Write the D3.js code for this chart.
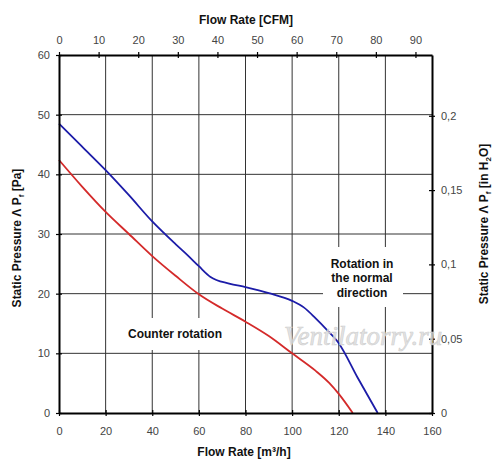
<!DOCTYPE html>
<html>
<head>
<meta charset="utf-8">
<script src="https://cdn.jsdelivr.net/npm/d3@7"></script>
<style>
  body { margin: 0; background: #fff; }
  text { font-family: "Liberation Sans", Arial, sans-serif; }
</style>
</head>
<body>
<svg id="chart" width="500" height="473"></svg>
<script>

// axis ticks
var flowTicks = [0, 20, 40, 60, 80, 100, 120, 140, 160];
var cfmTicks = [0, 10, 20, 30, 40, 50, 60, 70, 80, 90];
var paTicks = [0, 10, 20, 30, 40, 50, 60];
var inchTicks = [0, 0.05, 0.1, 0.15, 0.2];

// unit conversions for the secondary axes
var CFM_PER_M3H = 0.5886;
var INH2O_PER_PA = 0.004015;

// rotation in the normal direction (blue)
var normalFlow =     [0, 10, 20, 30, 40, 50, 55, 60, 65, 73, 80, 90, 100, 105, 110, 115, 120, 128, 136.7];
var normalPressure = [48.5, 44.6, 40.7, 36.5, 32.1, 28.3, 26.5, 24.6, 22.8, 21.7, 21.1, 20.1, 18.8, 17.7, 15.9, 13.9, 11.7, 6.0, 0];

// counter rotation (red)
var counterFlow =     [0, 10, 20, 30, 40, 50, 60, 70, 80, 90, 100, 110, 116, 120, 126];
var counterPressure = [42.4, 37.9, 33.7, 30.0, 26.3, 23.0, 19.9, 17.5, 15.3, 12.9, 10.0, 7.1, 5.0, 3.2, 0];

var svg = d3.select('#chart');
var plot = { left: 59, right: 432, top: 55, bottom: 413 };

var x = d3.scaleLinear().domain([0, 160]).range([plot.left, plot.right]);
var xCfm = d3.scaleLinear().domain([0, 160 * CFM_PER_M3H]).range([plot.left, plot.right]);
var y = d3.scaleLinear().domain([0, 60]).range([plot.bottom, plot.top]);
var yIn = d3.scaleLinear().domain([0, 60 * INH2O_PER_PA]).range([plot.bottom, plot.top]);

//grid
var grid = svg.append('g').attr('stroke', '#333').attr('stroke-width', 1);
grid.selectAll('.vgrid')
    .data(flowTicks.slice(1, -1))
  .enter().append('line')
    .attr('x1', function (d) { return x(d); })
    .attr('x2', function (d) { return x(d); })
    .attr('y1', plot.top).attr('y2', plot.bottom);
grid.selectAll('.hgrid')
    .data(paTicks.slice(1, -1))
  .enter().append('line')
    .attr('x1', plot.left).attr('x2', plot.right)
    .attr('y1', function (d) { return y(d); })
    .attr('y2', function (d) { return y(d); });

//label boxes (hide grid behind the annotations)
svg.append('rect').attr('x', 323).attr('y', 247).attr('width', 80).attr('height', 60).attr('fill', '#fff');
svg.append('rect').attr('x', 125).attr('y', 318).attr('width', 100).attr('height', 32).attr('fill', '#fff');

var normalLabel = svg.append('text')
    .attr('text-anchor', 'middle')
    .attr('font-size', 12).attr('font-weight', 'bold').attr('fill', '#111');
['Rotation in', 'the normal', 'direction'].forEach(function (t, i) {
    normalLabel.append('tspan').attr('x', 362).attr('y', 268 + i * 14.4).text(t);
});
svg.append('text')
    .attr('x', 175).attr('y', 338)
    .attr('text-anchor', 'middle')
    .attr('font-size', 12).attr('font-weight', 'bold').attr('fill', '#111')
    .text('Counter rotation');

//curves
var line = d3.line()
    .x(function (d) { return x(d[0]); })
    .y(function (d) { return y(d[1]); })
    .curve(d3.curveMonotoneX);

svg.append('path')
    .datum(d3.zip(counterFlow, counterPressure))
    .attr('d', line)
    .attr('fill', 'none').attr('stroke', '#d42a2a').attr('stroke-width', 1.8);
svg.append('path')
    .datum(d3.zip(normalFlow, normalPressure))
    .attr('d', line)
    .attr('fill', 'none').attr('stroke', '#1c1ca8').attr('stroke-width', 1.8);

//axes
function styleAxis(g, vertical) {
    g.select('.domain').attr('stroke', '#000').attr('stroke-width', 2);
    g.selectAll('.tick line').attr('stroke', '#000').attr('stroke-width', 1.2);
    if (vertical) {
        g.selectAll('.tick line').attr('x1', -3).attr('x2', 3);
    } else {
        g.selectAll('.tick line').attr('y1', -3).attr('y2', 3);
    }
    g.selectAll('.tick text')
        .style('fill', '#444')
        .style('font-family', '"Liberation Sans", Arial, sans-serif')
        .attr('font-size', 11);
}

svg.append('g')
    .attr('transform', 'translate(0,' + plot.bottom + ')')
    .call(d3.axisBottom(x).tickValues(flowTicks).tickSizeOuter(0).tickSizeInner(3).tickPadding(11))
    .call(styleAxis, false);

svg.append('g')
    .attr('transform', 'translate(0,' + plot.top + ')')
    .call(d3.axisTop(xCfm).tickValues(cfmTicks).tickSizeOuter(0).tickSizeInner(3).tickPadding(8))
    .call(styleAxis, false);

svg.append('g')
    .attr('transform', 'translate(' + plot.left + ',0)')
    .call(d3.axisLeft(y).tickValues(paTicks).tickSizeOuter(0).tickSizeInner(3).tickPadding(6))
    .call(styleAxis, true);

svg.append('g')
    .attr('transform', 'translate(' + plot.right + ',0)')
    .call(d3.axisRight(yIn).tickValues(inchTicks).tickSizeOuter(0).tickSizeInner(3).tickPadding(6)
        .tickFormat(function (d) { return String(d).replace('.', ','); }))
    .call(styleAxis, true);

//axis titles
svg.append('text')
    .attr('x', 246).attr('y', 24)
    .attr('text-anchor', 'middle')
    .attr('font-size', 12).attr('font-weight', 'bold').attr('fill', '#111')
    .text('Flow Rate [CFM]');

svg.append('text')
    .attr('x', 244).attr('y', 456)
    .attr('text-anchor', 'middle')
    .attr('font-size', 12).attr('font-weight', 'bold').attr('fill', '#111')
    .text('Flow Rate [m³/h]');

var leftTitle = svg.append('text')
    .attr('transform', 'translate(21,238) rotate(-90)')
    .attr('text-anchor', 'middle')
    .attr('font-size', 12).attr('font-weight', 'bold').attr('fill', '#111');
leftTitle.append('tspan').text('Static Pressure Λ P');
leftTitle.append('tspan').attr('font-size', 8).attr('dy', 3).text('f');
leftTitle.append('tspan').attr('dy', -3).text(' [Pa]');

var rightTitle = svg.append('text')
    .attr('transform', 'translate(488,224) rotate(-90)')
    .attr('text-anchor', 'middle')
    .attr('font-size', 12).attr('font-weight', 'bold').attr('fill', '#111');
rightTitle.append('tspan').text('Static Pressure Λ P');
rightTitle.append('tspan').attr('font-size', 8).attr('dy', 3).text('f');
rightTitle.append('tspan').attr('dy', -3).text(' [in H');
rightTitle.append('tspan').attr('font-size', 8).attr('dy', 3).text('2');
rightTitle.append('tspan').attr('dy', -3).text('O]');

//watermark
svg.append('text')
    .attr('x', 284).attr('y', 345)
    .style('font-family', '"Liberation Serif", serif')
    .attr('font-style', 'italic')
    .attr('font-size', 27)
    .attr('fill', '#dcdcdc').attr('fill-opacity', 0.8)
    .attr('stroke', '#cfcfcf').attr('stroke-width', 0.6)
    .text('Ventilatorry.ru');

</script>
</body>
</html>
